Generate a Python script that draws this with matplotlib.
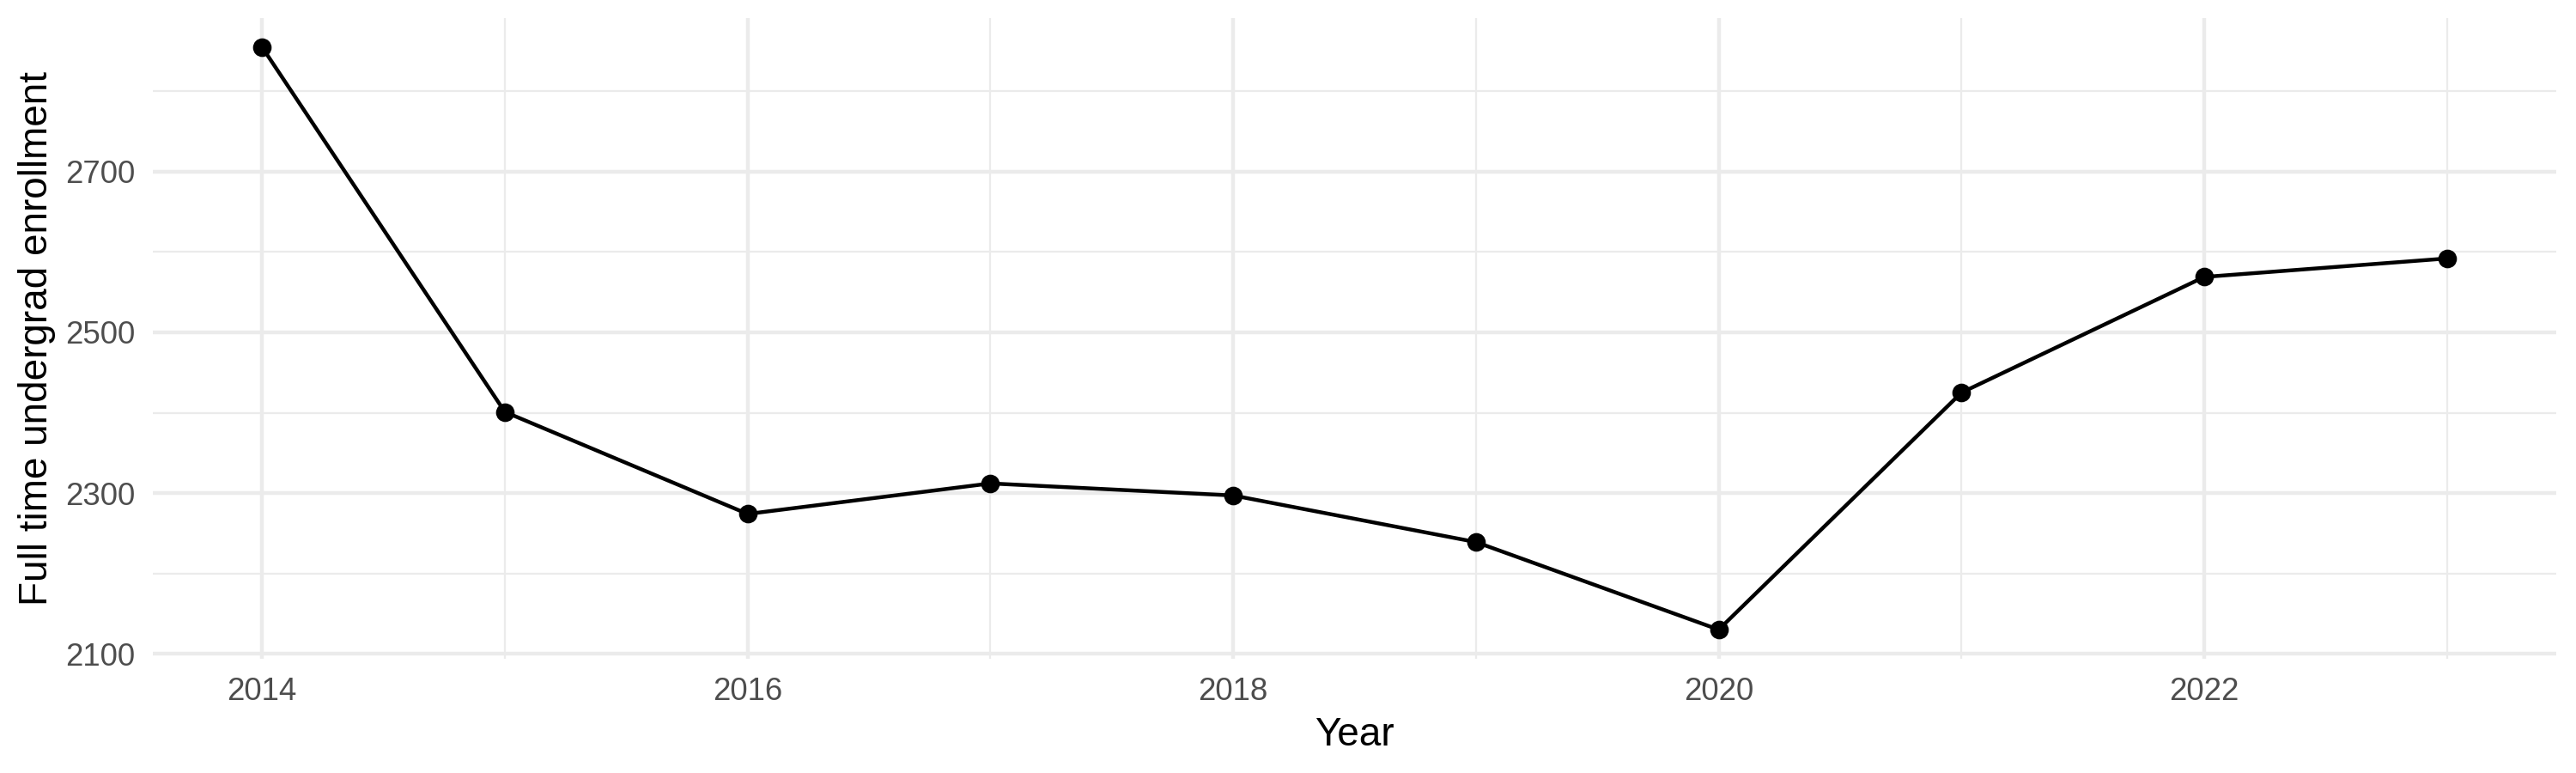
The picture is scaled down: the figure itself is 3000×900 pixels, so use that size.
import matplotlib
matplotlib.use("Agg")
import matplotlib.pyplot as plt
from matplotlib.ticker import FixedLocator

years = [2014, 2015, 2016, 2017, 2018, 2019, 2020, 2021, 2022, 2023]
enrollment = [2855, 2401, 2274, 2312, 2297, 2239, 2130, 2425, 2569, 2592]
x_major = [2014, 2016, 2018, 2020, 2022]
x_minor = [2015, 2017, 2019, 2021, 2023]
y_major = [2100, 2300, 2500, 2700]
y_minor = [2200, 2400, 2600, 2800]

plt.rcParams['font.family'] = ['Liberation Sans', 'DejaVu Sans']

fig = plt.figure(figsize=(10, 3), dpi=300)
ax = fig.add_axes([178/3000, 1-767/900, (2977-178)/3000, (767-21)/900])

ax.set_facecolor('white')
for s in ax.spines.values():
    s.set_visible(False)

xr = max(years) - min(years)
ax.set_xlim(min(years) - 0.05*xr, max(years) + 0.05*xr)
yr = max(enrollment) - min(enrollment)
ax.set_ylim(min(enrollment) - 0.05*yr, max(enrollment) + 0.05*yr)

ax.xaxis.set_major_locator(FixedLocator(x_major))
ax.xaxis.set_minor_locator(FixedLocator(x_minor))
ax.yaxis.set_major_locator(FixedLocator(y_major))
ax.yaxis.set_minor_locator(FixedLocator(y_minor))
ax.set_xticklabels([str(v) for v in x_major])
ax.set_yticklabels([str(v) for v in y_major])

ax.grid(which='major', color='#EBEBEB', linewidth=1.07)
ax.grid(which='minor', color='#EBEBEB', linewidth=0.53)
ax.set_axisbelow(True)

ax.tick_params(which='both', length=0, pad=4.95, labelsize=8.8, labelcolor='#4D4D4D')

ax.plot(years, enrollment, color='black', linewidth=1.07, zorder=3)
ax.plot(years, enrollment, linestyle='none', marker='o', markersize=4.2,
        color='black', zorder=4)

ax.set_xlabel('Year', fontsize=11, color='black', labelpad=2.75)
ax.set_ylabel('Full time undergrad enrollment', fontsize=11, color='black', labelpad=2.75)

fig.savefig('out.png', dpi=300, facecolor='white')
